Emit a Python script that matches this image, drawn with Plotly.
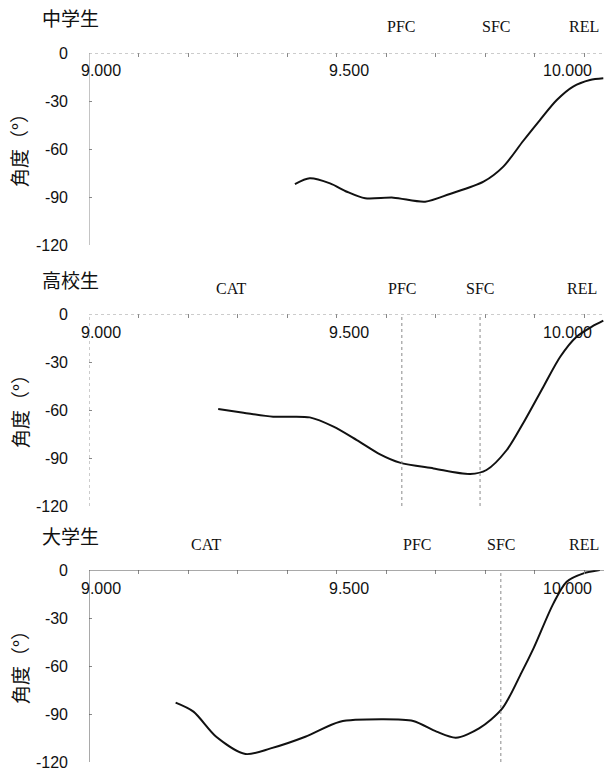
import plotly.graph_objects as go

# ---------------- data ----------------
PANEL_TITLES = ["中学生", "高校生", "大学生"]

T_JHS = [9.416, 9.446, 9.487, 9.521, 9.558, 9.615, 9.679, 9.729, 9.797, 9.837,
         9.877, 9.911, 9.945, 9.978, 10.012, 10.039]
A_JHS = [-81.9, -78.3, -81.5, -86.7, -90.8, -90.4, -92.9, -88.1, -80.4, -71.0,
         -55.0, -41.9, -29.4, -21.0, -16.9, -15.8]

T_HS = [9.261, 9.312, 9.372, 9.446, 9.494, 9.541, 9.588, 9.628, 9.696, 9.770,
        9.803, 9.844, 9.877, 9.918, 9.952, 9.985, 10.016, 10.039]
A_HS = [-59.4, -61.7, -64.2, -64.6, -70.4, -78.8, -87.7, -92.9, -96.5, -100.0,
        -97.5, -85.0, -68.3, -45.4, -26.7, -14.2, -7.9, -4.2]

T_UNI = [9.175, 9.211, 9.257, 9.316, 9.367, 9.437, 9.507, 9.593, 9.655, 9.702,
         9.741, 9.788, 9.835, 9.874, 9.898, 9.938, 9.965, 9.999, 10.032]
A_UNI = [-82.9, -88.5, -104.2, -115.0, -111.5, -104.2, -94.8, -93.3, -94.4, -101.0,
         -104.8, -99.0, -86.5, -64.0, -49.0, -21.0, -7.3, -2.1, 0.0]

EVENT_NAMES = [["PFC", "SFC", "REL"],
               ["CAT", "PFC", "SFC", "REL"],
               ["CAT", "PFC", "SFC", "REL"]]
EVENT_TIMES = [[9.630, 9.822, 10.0],
               [9.287, 9.632, 9.790, 9.996],
               [9.236, 9.663, 9.832, 10.0]]
EVENT_HAS_LINE = [[False, False, False],
                  [False, True, True, False],
                  [False, False, True, False]]

X_TICK_VALS = [9.0, 9.5, 10.0]
X_TICK_TEXT = ["9.000", "9.500", "10.000"]
Y_TICK_VALS = [0, -30, -60, -90, -120]
Y_TICK_TEXT = ["0", "-30", "-60", "-90", "-120"]
Y_TITLE = "角度（°）"

SERIES_T = [T_JHS, T_HS, T_UNI]
SERIES_A = [A_JHS, A_HS, A_UNI]

# ---------------- layout ----------------
W, H = 604, 770
ML = 89
PLOT_W = W - ML
ZERO_PX = [53, 314, 570]
PX_PER_DEG = 1.6
Y_RANGE = [-120, 0]
X_RANGE = [9.0, 9.0 + PLOT_W / 495.0]

AXIS_STYLE = [  # (x-axis line dash, colour), (y-axis line dash, colour)
    (("dot", "#9a9a9a"), ("solid", "#8a8a8a")),
    (("dot", "#9a9a9a"), ("dot", "#9a9a9a")),
    (("solid", "#555555"), ("solid", "#555555")),
]

SANS = "Liberation Sans, Arial, sans-serif"
SERIF = "Liberation Serif, Times New Roman, serif"
CJK = "Noto Sans CJK JP, sans-serif"

fig = go.Figure()
layout = dict(
    width=W, height=H,
    margin=dict(l=ML, r=0, t=0, b=0, autoexpand=False),
    paper_bgcolor="white", plot_bgcolor="white",
    showlegend=False,
)
shapes = []
annotations = []

for i in range(3):
    n = "" if i == 0 else str(i + 1)
    xa, ya = "x" + n, "y" + n
    zero = ZERO_PX[i]
    bottom = zero + (Y_RANGE[1] - Y_RANGE[0]) * PX_PER_DEG
    dom = [1 - bottom / H, 1 - zero / H]

    fig.add_trace(go.Scatter(
        x=SERIES_T[i], y=SERIES_A[i], mode="lines",
        line=dict(color="#111111", width=2, shape="spline", smoothing=0.8),
        xaxis=xa, yaxis=ya, hoverinfo="skip",
    ))

    layout["xaxis" + n] = dict(
        domain=[0, 1], range=X_RANGE, anchor=ya, side="top",
        showgrid=False, zeroline=False, showline=False,
        tick0=9.0, dtick=0.1, ticks="inside", ticklen=4, tickcolor="#888888",
        showticklabels=False, fixedrange=True,
    )
    layout["yaxis" + n] = dict(
        domain=dom, range=Y_RANGE, anchor=xa,
        showgrid=False, zeroline=False, showline=False,
        tickvals=Y_TICK_VALS, ticktext=Y_TICK_TEXT,
        ticks="inside", ticklen=3, tickcolor="#888888",
        ticklabelstandoff=20, ticklabeloverflow="allow",
        tickfont=dict(family=SANS, size=16, color="#111111"),
        fixedrange=True,
    )

    (xd, xc), (yd, yc) = AXIS_STYLE[i]
    shapes.append(dict(type="line", xref=xa + " domain", yref=ya,
                       x0=0, x1=1, y0=0, y1=0,
                       line=dict(color=xc, width=1, dash=xd)))
    shapes.append(dict(type="line", xref=xa, yref=ya + " domain",
                       x0=X_RANGE[0], x1=X_RANGE[0], y0=0, y1=1,
                       line=dict(color=yc, width=1, dash=yd)))

    # x tick labels inside the plot, below the top axis line
    for k, (tv, tt) in enumerate(zip(X_TICK_VALS, X_TICK_TEXT)):
        last = k == len(X_TICK_VALS) - 1
        annotations.append(dict(
            x=tv, y=0, xref=xa, yref=ya, text=tt, showarrow=False,
            xanchor="right" if last else "left", yanchor="middle",
            xshift=10 if last else -10, yshift=-18,
            font=dict(family=SANS, size=16, color="#111111"),
        ))

    # event labels and lines
    for name, t, has_line in zip(EVENT_NAMES[i], EVENT_TIMES[i], EVENT_HAS_LINE[i]):
        annotations.append(dict(
            x=t, y=0, xref=xa, yref=ya, text=name, showarrow=False,
            xanchor="center", yanchor="middle", yshift=26,
            font=dict(family=SERIF, size=16, color="#111111"),
        ))
        if has_line:
            shapes.append(dict(type="line", xref=xa, yref=ya + " domain",
                               x0=t, x1=t, y0=0, y1=1,
                               line=dict(color="#8a8a8a", width=1, dash="dot")))

    # panel title (left of the plot area)
    annotations.append(dict(
        x=(40 - ML) / PLOT_W, y=0, xref=xa + " domain", yref=ya,
        text=PANEL_TITLES[i], showarrow=False,
        xanchor="left", yanchor="middle", yshift=35,
        font=dict(family=CJK, size=19, color="#111111"),
    ))

    # y-axis title (rotated, left of tick labels)
    annotations.append(dict(
        x=(19 - ML) / PLOT_W, y=0.5, xref=xa + " domain", yref=ya + " domain",
        text=Y_TITLE, showarrow=False, textangle=-90,
        xanchor="center", yanchor="middle", yshift=3,
        font=dict(family=CJK, size=19, color="#111111"),
    ))

layout["shapes"] = shapes
layout["annotations"] = annotations
fig.update_layout(**layout)
fig.write_html("out.html",
               config={"displayModeBar": False},
               post_script="document.body.style.margin='0px';"
                           "document.body.style.overflow='hidden';")
